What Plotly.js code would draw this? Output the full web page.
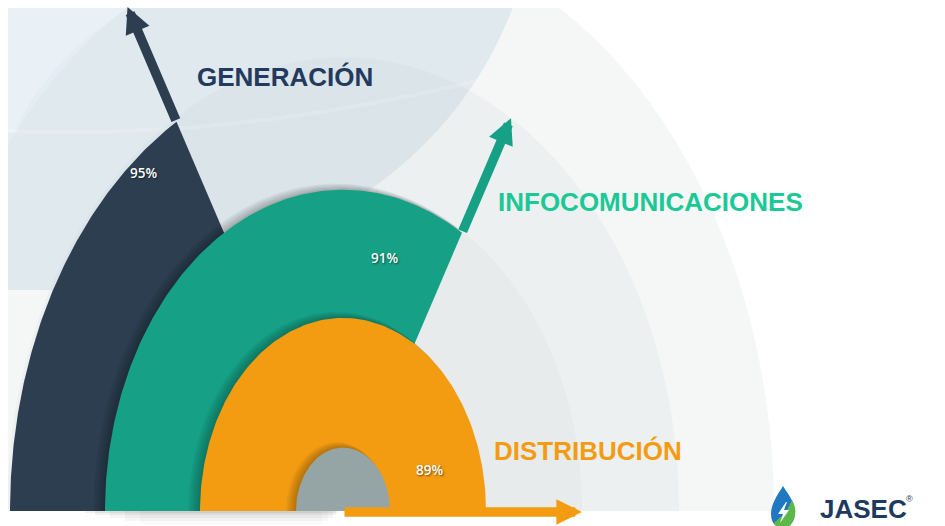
<!DOCTYPE html>
<html><head><meta charset="utf-8">
<script src="https://cdn.plot.ly/plotly-3.0.1.min.js"></script>
<style>html,body{margin:0;padding:0;background:#fff;overflow:hidden}#chart{width:945px;height:526px}</style>
</head><body><div id="chart"></div>
<script>
// ---- data ----
const categories = ['GENERACIÓN', 'INFOCOMUNICACIONES', 'DISTRIBUCIÓN'];
const percentValues = [95, 91, 89];
const percentLabels = percentValues.map(v => v + '%');
// geometry of the infographic (data-space radii / angles in degrees)
const ringRadius = [333, 238, 143];
const ringEndAngle = [120, 60, 0];
const arrowStart = [333, 238, 0];
const arrowReach = [431, 336, 239];
const coreRadius = 47;
const bandRadius = [431, 336, 239];
const labelRadius = [320, 192, 92];
const labelAngle = [128.5, 77.5, 19.5];

const sliceColors = ['#2c3e50', '#16a085', '#f39c12'];
const textColors = ['#233a5e', '#1cc895', '#f39c12'];
const coreColor = '#95a5a6';

// ---- helpers ----
const K = 1.35;               // vertical stretch of the arches
const CX = 343, CY = 511;     // pixel location of the common centre
const P = (px, py) => [px - CX, (CY - py) / K];
const rad = d => d * Math.PI / 180;

function wedge(r, a0, a1, dx, dr) {
  dx = dx || 0; dr = dr || 0;
  const xs = [dx], ys = [0], n = 160;
  for (let i = 0; i <= n; i++) {
    const a = rad(a0 + (a1 - a0) * i / n);
    xs.push(dx + (r + dr) * Math.cos(a));
    ys.push((r + dr) * Math.sin(a));
  }
  xs.push(dx); ys.push(0);
  return {xs, ys};
}

const traces = [];
function addFill(w, color) {
  traces.push({type: 'scatter', mode: 'lines', x: w.xs, y: w.ys, fill: 'toself',
    fillcolor: color, line: {width: 0, color: color}, hoverinfo: 'skip', showlegend: false});
}

// slices, each with a soft shadow on what lies beneath
for (let i = 0; i < categories.length; i++) {
  if (i > 0) {
    for (let s = 1; s <= 5; s++) {
      addFill(wedge(ringRadius[i], 180, ringEndAngle[i], -s * 1.4, s * 0.9), 'rgba(0,0,0,0.05)');
    }
  }
  addFill(wedge(ringRadius[i], 180, ringEndAngle[i]), sliceColors[i]);
}
for (let s = 1; s <= 5; s++) addFill(wedge(coreRadius, 180, 0, -s * 1.2, s * 0.8), 'rgba(0,0,0,0.05)');
addFill(wedge(coreRadius, 180, 0), coreColor);

// ---- background shapes ----
const yTop = (CY - 8) / K, yBot = -(526 - CY) / K;
const shapes = [];
const blue = '#e3edf4';
// light blue area top-left
const bc = P(150, -130), bR = 388;
shapes.push({type: 'circle', xref: 'x', yref: 'y', x0: bc[0] - bR, x1: bc[0] + bR,
  y0: bc[1] - bR / K, y1: bc[1] + bR / K, fillcolor: blue, line: {width: 0}, layer: 'below'});
shapes.push({type: 'rect', xref: 'x', yref: 'y', x0: P(8,0)[0], x1: 0,
  y0: P(0, 290)[1], y1: yTop + 5, fillcolor: blue, line: {width: 0}, layer: 'below'});
// subtle lighter details inside the blue area
const q = (a) => a.join(',');
shapes.push({type: 'path', xref: 'x', yref: 'y', layer: 'below', line: {width: 0}, fillcolor: 'rgba(255,255,255,0.22)',
  path: 'M' + q(P(8, 8)) + ' L' + q(P(130, 8)) + ' Q' + q(P(50, 55)) + ' ' + q(P(14, 132)) + ' L' + q(P(8, 132)) + ' Z'});
shapes.push({type: 'path', xref: 'x', yref: 'y', layer: 'below', fillcolor: 'rgba(0,0,0,0)',
  line: {width: 4, color: 'rgba(255,255,255,0.25)'},
  path: 'M' + q(P(8, 131)) + ' Q' + q(P(236, 140)) + ' ' + q(P(480, 80))});
// concentric grey bands
bandRadius.forEach(r => shapes.push({type: 'circle', xref: 'x', yref: 'y', x0: -r, x1: r, y0: -r, y1: r,
  fillcolor: 'rgba(208,217,217,0.21)', line: {width: 0}, layer: 'below'}));
// white below baseline
shapes.push({type: 'rect', xref: 'x', yref: 'y', x0: -400, x1: 700, y0: yBot - 5, y1: 0,
  fillcolor: '#ffffff', line: {width: 0}, layer: 'below'});
// soft shadow under the base line
[[2, 0.06, 85, 338], [4, 0.05, 95, 336], [7, 0.04, 110, 333], [10, 0.03, 125, 328], [13, 0.02, 140, 322]].forEach(([h, a, xa, xb]) =>
  shapes.push({type: 'rect', xref: 'x', yref: 'y',
  x0: P(xa, 0)[0], x1: P(xb, 0)[0], y0: -h / K, y1: 0, fillcolor: 'rgba(0,0,0,' + a + ')', line: {width: 0}, layer: 'below'}));

// logo drop
const pth = pts => pts.map((p, i) => (p[0] === 'C' ? 'C' + P(p[1], p[2]).join(',') + ' ' + P(p[3], p[4]).join(',') + ' ' + P(p[5], p[6]).join(',')
  : (i === 0 ? 'M' : 'L') + P(p[0], p[1]).join(','))).join(' ') + ' Z';
shapes.push({type: 'path', xref: 'x', yref: 'y', layer: 'above', line: {width: 0}, fillcolor: '#1f78c1',
  path: pth([[783, 486], ['C', 788, 494, 796, 503, 795, 514], ['C', 794, 524, 788, 528, 783, 528], ['C', 776, 528, 771, 523, 771, 514], ['C', 771, 504, 778, 494, 783, 486]])});
shapes.push({type: 'path', xref: 'x', yref: 'y', layer: 'above', line: {width: 0}, fillcolor: '#5db84a',
  path: pth([[792, 500], ['C', 795, 506, 796, 510, 795, 514], ['C', 794, 524, 788, 528, 783, 528], ['C', 779, 528, 776, 526, 774, 523], [786, 512]])});
shapes.push({type: 'path', xref: 'x', yref: 'y', layer: 'above', line: {width: 0}, fillcolor: '#ffffff',
  path: pth([[786, 502], [778, 514], [783, 514], [780, 523], [789, 510], [784, 510], [787, 502]])});

// ---- annotations ----
const ann = [];
for (let i = 0; i < categories.length; i++) {
  const a = rad(ringEndAngle[i]);
  const oy = i === 2 ? -1 / K : 0;
  ann.push({xref: 'x', yref: 'y', axref: 'x', ayref: 'y', text: '', showarrow: true,
    x: arrowReach[i] * Math.cos(a), y: arrowReach[i] * Math.sin(a) + oy,
    ax: arrowStart[i] * Math.cos(a), ay: arrowStart[i] * Math.sin(a) + oy,
    arrowhead: 2, arrowwidth: 9.5, arrowsize: 0.54, arrowcolor: sliceColors[i], standoff: 0});
  const la = rad(labelAngle[i]);
  ann.push({xref: 'x', yref: 'y', x: labelRadius[i] * Math.cos(la), y: labelRadius[i] * Math.sin(la),
    text: percentLabels[i], showarrow: false, xanchor: 'center', yanchor: 'middle',
    font: {family: 'Open Sans', size: 13.5, color: '#ffffff', weight: 600, shadow: '1px 1px 2px rgba(0,0,0,0.55)'}});
}
const catPos = [P(285, 77), P(650, 202), P(588, 451)];
categories.forEach((c, i) => ann.push({xref: 'x', yref: 'y', x: catPos[i][0], y: catPos[i][1], text: '<b>' + c + '</b>',
  showarrow: false, xanchor: 'center', yanchor: 'middle', font: {family: 'Liberation Sans', size: 26, color: textColors[i]}}));
const lg = P(818, 509);
ann.push({xref: 'x', yref: 'y', x: lg[0], y: lg[1], text: '<b>JASEC</b>', showarrow: false, xanchor: 'left', yanchor: 'middle',
  font: {family: 'Liberation Sans', size: 26, color: '#1d3a60'}});
const lg2 = P(904, 499);
ann.push({xref: 'x', yref: 'y', x: lg2[0], y: lg2[1], text: '®', showarrow: false, xanchor: 'left', yanchor: 'middle',
  font: {family: 'Liberation Sans', size: 9, color: '#1d3a60'}});
const layout = {
  width: 945, height: 526, margin: {l: 8, r: 0, t: 8, b: 0},
  paper_bgcolor: '#ffffff', plot_bgcolor: '#ffffff', showlegend: false,
  xaxis: {range: [P(8, 0)[0], P(945, 0)[0]], visible: false, fixedrange: true},
  yaxis: {range: [yBot, yTop], visible: false, fixedrange: true},
  shapes: shapes, annotations: ann, hovermode: false
};
Plotly.newPlot('chart', traces, layout, {displayModeBar: false, staticPlot: true});
</script></body></html>
